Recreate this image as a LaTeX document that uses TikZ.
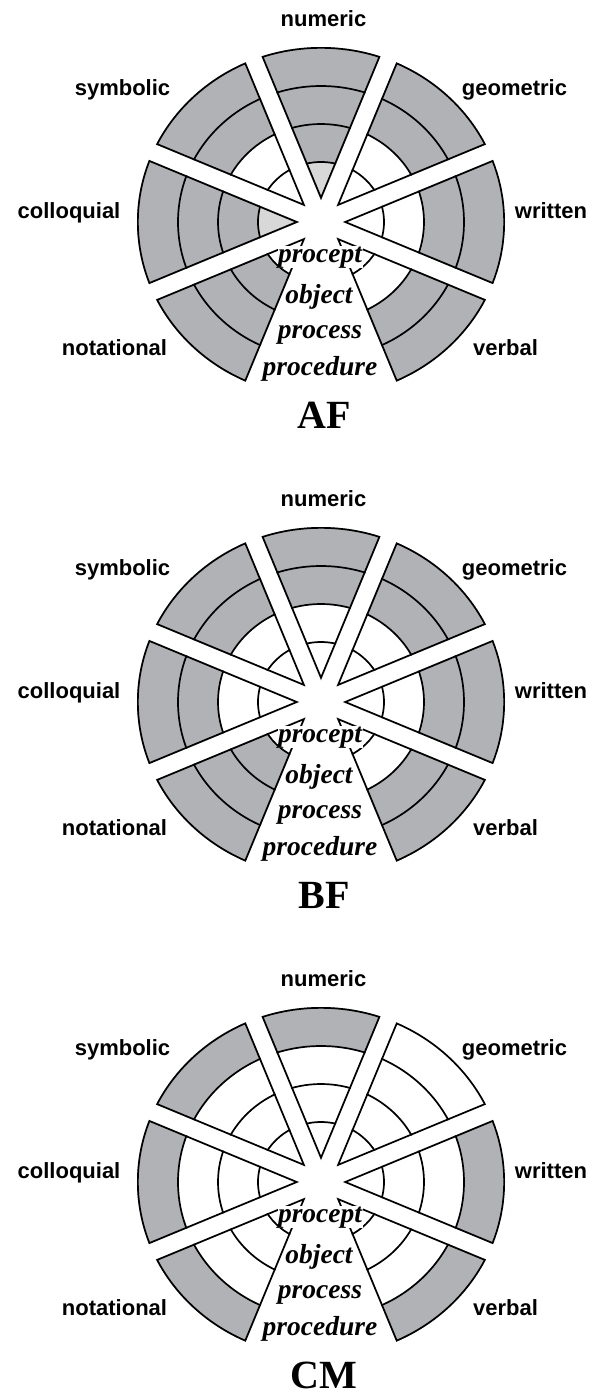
\documentclass[tikz,border=0pt]{standalone}
\usepackage{fontspec}
\setmainfont{Liberation Serif}
\newfontfamily\labfont{Liberation Sans}
\definecolor{sg}{RGB}{177,178,182}
\definecolor{sl}{RGB}{216,216,216}
\tikzset{
  ring/.style={line width=1.7pt},
  rim/.style={line width=3.4pt, line join=miter},
  lbl/.style={font=\labfont\bfseries\fontsize{22}{22}\selectfont, anchor=base, inner sep=0pt},
  mid/.style={font=\bfseries\itshape\fontsize{27.5}{27.5}\selectfont, anchor=base, inner sep=0pt},
  ttl/.style={font=\bfseries\fontsize{40}{40}\selectfont, anchor=base, inner sep=0pt}
}
\newcommand\drawsec[7]{%
\begin{scope}[shift={(#1,#2)}]
\begin{scope}
\clip (#3:22) -- ++(#3-22.5:320) -- ++(#3+90:244.9) -- cycle;
\clip (0,0) ellipse [x radius=184, y radius=175];
\fill[#7] (0,0) ellipse [x radius=184, y radius=175];
\fill[#6] (0,0) ellipse [x radius=143, y radius=136];
\fill[#5] (0,0) ellipse [x radius=103, y radius=98];
\fill[#4] (0,0) ellipse [x radius=63, y radius=60];
\draw[ring] (0,0) ellipse [x radius=143, y radius=136]
            (0,0) ellipse [x radius=103, y radius=98]
            (0,0) ellipse [x radius=63, y radius=60];
\draw[rim] (#3:22) -- ++(#3-22.5:320) -- ++(#3+90:244.9) -- cycle
           (0,0) ellipse [x radius=184, y radius=175];
\end{scope}
\end{scope}}
\begin{document}
\begin{tikzpicture}[x=1pt,y=-1pt]
\useasboundingbox (0,0) rectangle (599,1398);
\fill[white] (0,0) rectangle (599,1398);
% ---------- AF ----------
\drawsec{321}{222}{-90}{sl}{sg}{sg}{sg}
\drawsec{321}{222}{-45}{white}{white}{sg}{sg}
\drawsec{321}{222}{0}{white}{white}{sg}{sg}
\drawsec{321}{222}{45}{white}{white}{sg}{sg}
\drawsec{321}{222}{135}{white}{sg}{sg}{sg}
\drawsec{321}{222}{180}{sl}{sg}{sg}{sg}
\drawsec{321}{222}{225}{white}{white}{sg}{sg}
% ---------- BF ----------
\drawsec{321}{702}{-90}{white}{white}{sg}{sg}
\drawsec{321}{702}{-45}{white}{white}{sg}{sg}
\drawsec{321}{702}{0}{white}{white}{sg}{sg}
\drawsec{321}{702}{45}{white}{white}{sg}{sg}
\drawsec{321}{702}{135}{white}{sg}{sg}{sg}
\drawsec{321}{702}{180}{white}{white}{sg}{sg}
\drawsec{321}{702}{225}{white}{white}{sg}{sg}
% ---------- CM ----------
\drawsec{321}{1182}{-90}{white}{white}{white}{sg}
\drawsec{321}{1182}{-45}{white}{white}{white}{white}
\drawsec{321}{1182}{0}{white}{white}{white}{sg}
\drawsec{321}{1182}{45}{white}{white}{white}{sg}
\drawsec{321}{1182}{135}{white}{white}{white}{sg}
\drawsec{321}{1182}{180}{white}{white}{white}{sg}
\drawsec{321}{1182}{225}{white}{white}{white}{sg}
% ---------- texts ----------
\foreach \oy/\tt in {0/AF,480/BF,960/CM}{
  \node[lbl] (numeric\tt) at (323.5,26+\oy) {numeric};
  \node[lbl] (symbolic\tt) at (122.5,95+\oy) {symbolic};
  \node[lbl] (geometric\tt) at (514.5,95+\oy) {geometric};
  \node[lbl] (colloquial\tt) at (69,218+\oy) {colloquial};
  \node[lbl] (written\tt) at (551,218+\oy) {written};
  \node[lbl] (notational\tt) at (114.5,355+\oy) {notational};
  \node[lbl] (verbal\tt) at (505.5,355+\oy) {verbal};
  \node[mid, fill=white, inner sep=0.5pt] (procept\tt) at (320,262+\oy) {procept};
  \node[mid] (object\tt) at (319,303+\oy) {object};
  \node[mid] (process\tt) at (320,338+\oy) {process};
  \node[mid] (procedure\tt) at (320,375+\oy) {procedure};
  \node[ttl] (title\tt) at (324,428+\oy) {\tt};
}
\end{tikzpicture}
\end{document}
